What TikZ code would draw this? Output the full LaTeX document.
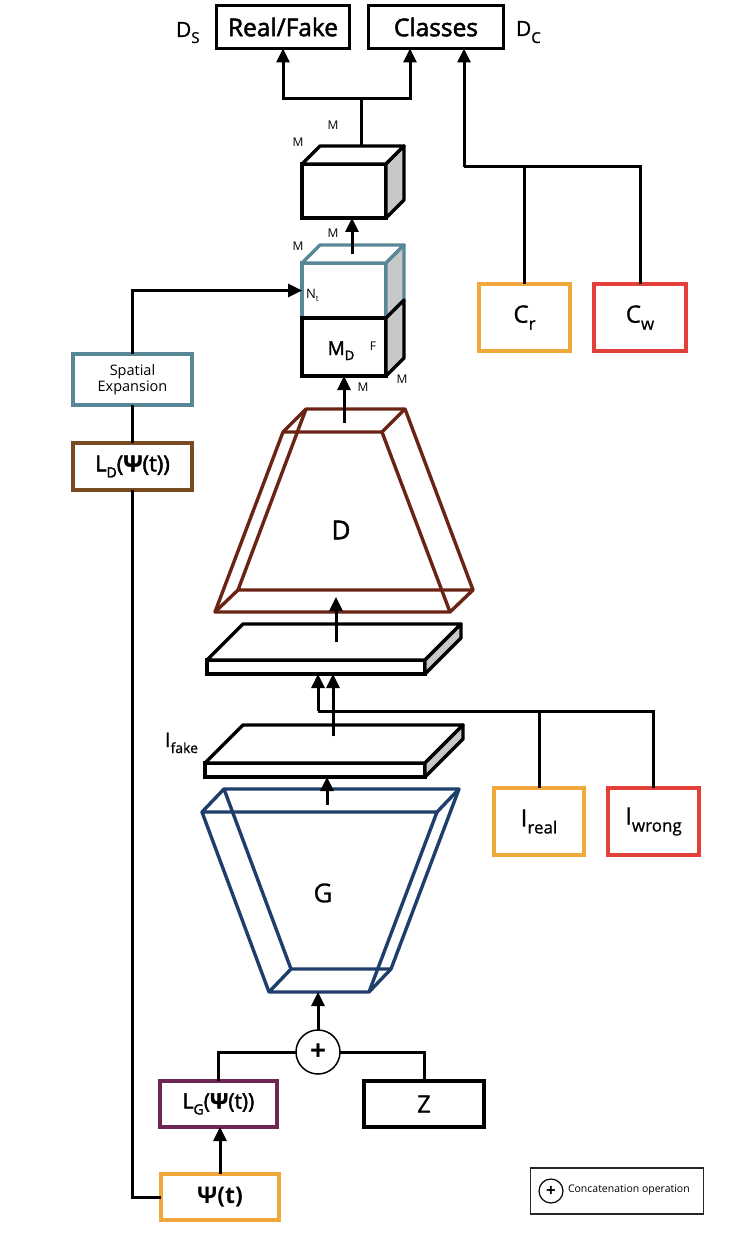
\documentclass[tikz,border=0pt]{standalone}
\usepackage{fontspec}
\setmainfont{Open Sans}
\newfontfamily\medf[FakeBold=2]{Open Sans}
\newfontfamily\lightf[FakeBold=0.8]{Open Sans}
\usetikzlibrary{arrows.meta,calc}
\definecolor{corange}{RGB}{240,168,58}
\definecolor{cred}{RGB}{226,64,56}
\definecolor{cteal}{RGB}{88,136,152}
\definecolor{cbrownL}{RGB}{122,74,32}
\definecolor{cbrownD}{RGB}{107,36,20}
\definecolor{cblue}{RGB}{30,62,107}
\definecolor{cpurple}{RGB}{110,38,82}
\definecolor{cgray}{RGB}{200,200,200}
\newcommand{\fs}[1]{\fontsize{#1}{#1}\selectfont}
\begin{document}
\begin{tikzpicture}[x=1pt,y=-1pt,
  every node/.style={outer sep=0pt, inner sep=0pt},
  box/.style={draw=black, line width=3.4pt, fill=white, align=center},
  conn/.style={line width=3pt},
  arr/.style={line width=3pt, -{Triangle[width=13pt,length=14pt]}},
  cubel/.style={line width=3.4pt, line join=round, fill=white},
  wire/.style={line width=3.4pt, line join=round},
  lbl/.style={font=\fs{12}},
]
\useasboundingbox (0,0) rectangle (743,1241);

% ---------- output boxes ----------
\node[box, minimum width=133pt, minimum height=43pt, font=\medf\fs{24.5}] (rf) at (283,27) {Real/Fake};
\node[box, minimum width=135pt, minimum height=43pt, font=\medf\fs{24.5}] (cls) at (436,27) {Classes};
\node[anchor=base west, font=\lightf\fs{21}] (ds) at (176,37) {D\raisebox{-6pt}{\fs{15}S}};
\node[anchor=base west, font=\lightf\fs{21}] (dc) at (516,36) {D\raisebox{-7pt}{\fs{15}C}};

% ---------- class boxes ----------
\node[box, draw=corange, minimum width=91pt, minimum height=67pt, font=\lightf\fs{24}] (cr) at (524.5,317.5) {C\raisebox{-7pt}{\fs{17}r}};
\node[box, draw=cred, minimum width=92pt, minimum height=67pt, font=\lightf\fs{24}] (cw) at (640,317.5) {C\raisebox{-7pt}{\fs{17}w}};

% ---------- cubes ----------
\node[draw, line width=3.4pt, fill=white, minimum width=84pt, minimum height=54pt] (topc) at (344,191) {};
\draw[cubel] (topc.north west) -- ++(18,-18) -- ($(topc.north east)+(18,-18)$) -- (topc.north east) -- cycle;
\draw[cubel, fill=cgray] (topc.north east) -- ++(18,-18) -- ($(topc.south east)+(18,-18)$) -- (topc.south east) -- cycle;

\node[draw=cteal, line width=3.4pt, fill=white, minimum width=84pt, minimum height=55pt] (midc) at (344,290.5) {};
\draw[cubel, draw=cteal] (midc.north west) -- ++(18,-18) -- ($(midc.north east)+(18,-18)$) -- (midc.north east) -- cycle;
\draw[cubel, draw=cteal, fill=cgray] (midc.north east) -- ++(18,-18) -- ($(midc.south east)+(18,-18)$) -- (midc.south east) -- cycle;

\node[draw, line width=3.4pt, fill=white, minimum width=84pt, minimum height=58pt] (botc) at (344,347) {};
\draw[cubel, fill=cgray] (botc.north east) -- ++(18,-18) -- ($(botc.south east)+(18,-18)$) -- (botc.south east) -- cycle;

\node[lbl] (m1) at (333,125) {M};
\node[lbl] (m2) at (298,142) {M};
\node[lbl] (m3) at (333,233) {M};
\node[lbl] (m4) at (298,246) {M};
\node[anchor=base west, font=\fs{13}] (nt) at (306,298) {N\raisebox{-3pt}{\fs{8}t}};
\node[anchor=base, font=\medf\fs{19}] (md) at (341,355) {M\raisebox{-5pt}{\fs{13}D}};
\node[lbl] (ff) at (373,346) {F};
\node[lbl] (m5) at (402,379) {M};
\node[lbl] (m6) at (363,387) {M};

% ---------- top connectors ----------
\coordinate (tsplit) at (361,99);
\draw[conn] ($(topc.north)+(17,-18)$) -- (tsplit);
\draw[arr] (tsplit) -| (rf.south);
\draw[arr] (tsplit) -| ([xshift=-26pt]cls.south);
\coordinate (cjoin) at (464,167);
\draw[conn] (cw.north) |- (cjoin);
\draw[conn] (cr.north) -- (cr.north |- cjoin);
\draw[arr] (cjoin) -- (cjoin |- cls.south);
\draw[arr] ($(midc.north)+(8,-9)$) -- ([xshift=8pt]topc.south);

% ---------- left column ----------
\node[box, draw=cteal, minimum width=119pt, minimum height=51pt, font=\fs{14.5}, align=center] (sp) at (132.5,379.5) {Spatial\\[1pt]Expansion};
\node[box, draw=cbrownL, minimum width=119pt, minimum height=47pt, font=\medf\fs{22}] (ld) at (132.5,466.5) {L\raisebox{-6pt}{\fs{14}D}(\textbf{Ψ}(t))};
\draw[arr] (sp.north) |- (midc.west);
\draw[conn] (ld.north) -- (sp.south);

% ---------- D ----------
\coordinate (d1) at (283,432); \coordinate (d2) at (382,432);
\coordinate (d3) at (450,612); \coordinate (d4) at (215,612);
\coordinate (e1) at (306,409); \coordinate (e2) at (405,409);
\coordinate (e3) at (473,590); \coordinate (e4) at (238,590);
\draw[wire, draw=cbrownD] (e1) -- (e2) -- (e3) -- (e4) -- cycle;
\draw[wire, draw=cbrownD] (d1) -- (d2) -- (d3) -- (d4) -- cycle;
\draw[wire, draw=cbrownD] (d1) -- (e1) (d2) -- (e2) (d3) -- (e3) (d4) -- (e4);
\node[font=\medf\fs{26}] (dl) at (341,530) {D};
\coordinate (dtop) at (344,423);
\draw[arr] (dtop) -- (botc.south);

% ---------- slabs ----------
\node[draw, line width=3.4pt, fill=white, minimum width=218pt, minimum height=14pt] (slab1) at (316,667) {};
\draw[cubel] (slab1.north west) -- ++(36,-36) -- ($(slab1.north east)+(36,-36)$) -- (slab1.north east) -- cycle;
\draw[cubel, fill=cgray] (slab1.north east) -- ++(36,-36) -- ($(slab1.south east)+(36,-36)$) -- (slab1.south east) -- cycle;
\coordinate (dIn) at (336,597);
\draw[arr] ($(slab1.north)+(20,-18)$) -- (dIn);

\node[draw, line width=3.4pt, fill=white, minimum width=220pt, minimum height=14pt] (slab2) at (315,770) {};
\draw[cubel] (slab2.north west) -- ++(38,-38) -- ($(slab2.north east)+(38,-38)$) -- (slab2.north east) -- cycle;
\draw[cubel, fill=cgray] (slab2.north east) -- ++(38,-38) -- ($(slab2.south east)+(38,-38)$) -- (slab2.south east) -- cycle;
\node[anchor=base west, font=\lightf\fs{20}] (ifake) at (165,747) {I\raisebox{-6pt}{\fs{14}fake}};

\node[box, draw=corange, minimum width=90pt, minimum height=67pt, font=\lightf\fs{24}] (ir) at (539,821.5) {I\raisebox{-7pt}{\fs{17}real}};
\node[box, draw=cred, minimum width=91pt, minimum height=67pt, font=\lightf\fs{24}] (iw) at (653.5,821.5) {I\raisebox{-7pt}{\fs{17}wrong}};
\coordinate (ijoin) at (318,711);
\draw[conn] (iw.north) |- (ijoin);
\draw[conn] (ir.north) -- (ir.north |- ijoin);
\draw[arr] (ijoin) -- (ijoin |- slab1.south);
\draw[arr] ($(slab2.north)+(18,-27)$) -- ($(slab1.south)+(17,0)$);

% ---------- G ----------
\coordinate (g1) at (202,812); \coordinate (g2) at (437,812);
\coordinate (g3) at (369,992); \coordinate (g4) at (269,992);
\coordinate (h1) at (224,789); \coordinate (h2) at (459,789);
\coordinate (h3) at (391,969); \coordinate (h4) at (291,969);
\draw[wire, draw=cblue] (h1) -- (h2) -- (h3) -- (h4) -- cycle;
\draw[wire, draw=cblue] (g1) -- (g2) -- (g3) -- (g4) -- cycle;
\draw[wire, draw=cblue] (g1) -- (h1) (g2) -- (h2) (g3) -- (h3) (g4) -- (h4);
\node[font=\lightf\fs{26}] (gl) at (323,893) {G};
\coordinate (gtop) at (327,805);
\draw[arr] (gtop) -- ($(slab2.south)+(12,0)$);

% ---------- bottom ----------
\node[draw, circle, line width=1.5pt, minimum size=44pt, fill=white, font=\bfseries\fs{28}] (plus) at (318,1052) {+};
\coordinate (gbot) at (318,992);
\draw[arr] (plus.north) -- (gbot);
\node[box, draw=cpurple, minimum width=117pt, minimum height=46pt, font=\medf\fs{21}] (lg) at (218.5,1104) {L\raisebox{-6pt}{\fs{14}G}(\textbf{Ψ}(t))};
\node[box, minimum width=120pt, minimum height=46pt, font=\lightf\fs{24}] (z) at (424,1104) {Z};
\draw[conn] (lg.north) |- (plus.west);
\draw[conn] (z.north) |- (plus.east);
\node[box, draw=corange, minimum width=118pt, minimum height=46pt, font=\bfseries\fs{23}] (psi) at (220,1197) {Ψ(t)};
\draw[arr] (psi.north) -- (psi.north |- lg.south);
\draw[conn] (psi.west) -| (ld.south);

% ---------- legend ----------
\node[draw=black!85, line width=1.2pt, minimum width=173pt, minimum height=46pt] (leg) at (617,1191) {};
\node[draw, circle, line width=1.2pt, minimum size=24pt, font=\bfseries\fs{17}] (legc) at (551,1191) {+};
\node[anchor=west, font=\fs{10.5}] (legt) at (568,1190) {Concatenation operation};
\end{tikzpicture}
\end{document}
